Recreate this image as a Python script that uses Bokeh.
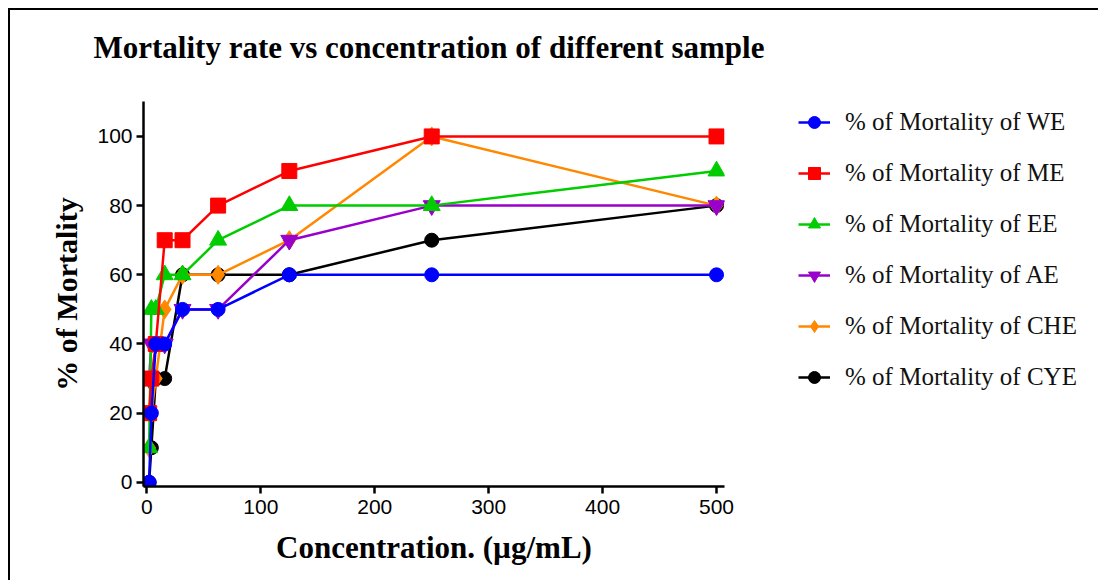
from bokeh.plotting import figure
from bokeh.models import Range1d, Legend, LegendItem, ColumnDataSource, FixedTicker, Title
from bokeh.embed import file_html
from bokeh.resources import INLINE

# Concentrations (µg/mL)
conc = [1.95, 3.9, 7.8, 15.6, 31.25, 62.5, 125, 250, 500]

# % of mortality per extract
we = [0, 20, 40, 40, 50, 50, 60, 60, 60]
me = [20, 30, 40, 70, 70, 80, 90, 100, 100]
ee = [10, 50, 50, 60, 60, 70, 80, 80, 90]
ae = [30, 40, 40, 40, 50, 50, 70, 80, 80]
che = [10, 20, 30, 50, 60, 60, 70, 100, 80]
cye = [0, 10, 30, 30, 60, 60, 60, 70, 80]

labels = ["% of Mortality of WE", "% of Mortality of ME", "% of Mortality of EE",
          "% of Mortality of AE", "% of Mortality of CHE", "% of Mortality of CYE"]
series = [we, me, ee, ae, che, cye]
colors = ["#0000FF", "#FF0000", "#00CC00", "#9900CC", "#FF8800", "#000000"]
markers = ["circle", "square", "triangle", "inverted_triangle", "diamond", "circle"]
sizes = [14, 15, 17, 17, 19, 14]

x_ticks = [0, 100, 200, 300, 400, 500]
y_ticks = [0, 20, 40, 60, 80, 100]

p = figure(frame_width=581, frame_height=385, output_backend="svg", toolbar_location=None,
           x_range=Range1d(-3, 507), y_range=Range1d(-1.2, 110.1),
           min_border_left=133, min_border_top=91, min_border_right=364,
           min_border_bottom=94)
p.styles = {"margin-left": "8px", "margin-top": "8px",
            "border-top": "2px solid black", "border-left": "2px solid black",
            "border-right": "2px solid black"}
p.outline_line_color = None
p.xgrid.visible = False
p.ygrid.visible = False
p.background_fill_color = "white"
p.border_fill_color = "white"

p.title = Title(text="Mortality rate vs concentration of different sample",
                align="left", offset=-50, standoff=39, vertical_align="top",
                text_font="Liberation Serif", text_font_style="bold",
                text_font_size="31px", text_color="black")
# small spacer between the title and the plot area
p.add_layout(Title(text=" ", text_font_size="2px", standoff=11), "above")

for ax in (p.xaxis[0], p.yaxis[0]):
    ax.axis_line_width = 2.5
    ax.axis_line_color = "black"
    ax.major_tick_line_width = 2.5
    ax.major_tick_line_color = "black"
    ax.major_tick_out = 7
    ax.major_tick_in = 0
    ax.minor_tick_line_color = None
    ax.major_label_text_font = "Liberation Sans"
    ax.major_label_text_font_size = "21px"
    ax.major_label_text_color = "black"
    ax.axis_label_text_font = "Liberation Serif"
    ax.axis_label_text_font_style = "bold"
    ax.axis_label_text_color = "black"

p.xaxis[0].axis_label_text_font_size = "31px"
p.yaxis[0].axis_label_text_font_size = "30px"
p.xaxis[0].ticker = FixedTicker(ticks=x_ticks)
p.yaxis[0].ticker = FixedTicker(ticks=y_ticks)
p.xaxis[0].major_label_standoff = 6
p.yaxis[0].major_label_standoff = 4
p.xaxis[0].axis_label = "Concentration. (µg/mL)"
p.yaxis[0].axis_label = "% of Mortality"
p.xaxis[0].axis_label_standoff = 13
p.yaxis[0].axis_label_standoff = 11

renderers = {}
for i in reversed(range(len(series))):
    src = ColumnDataSource(dict(x=conc, y=series[i]))
    ln = p.line("x", "y", source=src, line_color=colors[i], line_width=2.5)
    sc = p.scatter("x", "y", source=src, marker=markers[i], size=sizes[i],
                   fill_color=colors[i], line_color=colors[i])
    renderers[i] = [ln, sc]
items = [LegendItem(label=labels[i], renderers=renderers[i]) for i in range(len(series))]

legend = Legend(items=items, location=(74, 94), orientation="vertical",
                label_text_font="Liberation Serif", label_text_font_size="25px",
                label_text_color="#111111", glyph_width=32, glyph_height=30,
                label_height=30, label_standoff=15, spacing=21, padding=0, margin=0,
                border_line_color=None, background_fill_alpha=0)
p.add_layout(legend, "right")

open("out.html", "w").write(file_html(p, INLINE))
